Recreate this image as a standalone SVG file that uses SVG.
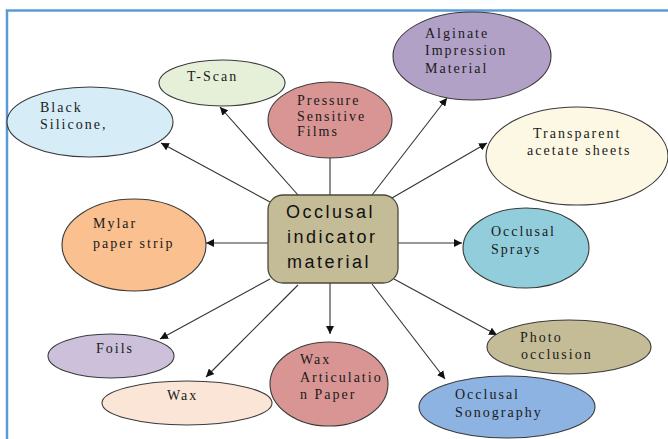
<svg xmlns="http://www.w3.org/2000/svg" width="668" height="439" viewBox="0 0 668 439">
<defs>
<marker id="ah" viewBox="0 0 10 10" refX="10" refY="5" markerWidth="8" markerHeight="8" markerUnits="userSpaceOnUse" orient="auto">
<path d="M0,0 L10,5 L0,10 z" fill="#111"/>
</marker>
<style>
.n{stroke:#3a3a3a;stroke-width:1.1}
.t{font-family:"Liberation Serif","Times New Roman",serif;font-size:14px;letter-spacing:2px;fill:#1a1a1a}
.c line{stroke:#333;stroke-width:1.1}
.a{marker-end:url(#ah)}
.b{font-family:"Liberation Sans",Arial,sans-serif;font-size:18px;letter-spacing:2.5px;fill:#111}
</style>
</defs>
<rect width="668" height="439" fill="#fff"/>
<g id="frame" fill="none" stroke="#5b9bd5" stroke-width="2.5">
<line x1="5.8" y1="10.5" x2="668" y2="10.5"/>
<line x1="7" y1="10" x2="7" y2="439"/>
</g>
<g class="c" id="connectors">
<line class="a" x1="270" y1="202" x2="161" y2="143"/>
<line class="a" x1="298" y1="195" x2="220" y2="107"/>
<line x1="330" y1="195" x2="330" y2="157"/>
<line class="a" x1="372" y1="195" x2="447" y2="98"/>
<line class="a" x1="392" y1="198" x2="487" y2="143"/>
<line class="a" x1="268" y1="243" x2="206" y2="243"/>
<line class="a" x1="398" y1="243" x2="462" y2="243"/>
<line class="a" x1="270" y1="279" x2="160" y2="339"/>
<line class="a" x1="298" y1="285" x2="206" y2="377"/>
<line class="a" x1="330" y1="283" x2="330" y2="334"/>
<line class="a" x1="394" y1="279" x2="497" y2="335"/>
<line class="a" x1="372" y1="284" x2="445" y2="379"/>
</g>
<g id="black-silicone">
<ellipse class="n" cx="90" cy="122" rx="83" ry="35" fill="#d6edf8"/>
<text class="t" x="40" y="112">Black</text>
<text class="t" x="40" y="129">Silicone,</text>
</g>
<g id="t-scan">
<ellipse class="n" cx="222" cy="83" rx="63" ry="23" fill="#e6f0d9"/>
<text class="t" x="187" y="81">T-Scan</text>
</g>
<g id="pressure-films">
<ellipse class="n" cx="330" cy="120" rx="62" ry="38" fill="#d99594"/>
<text class="t" x="297" y="105">Pressure</text>
<text class="t" x="297" y="121">Sensitive</text>
<text class="t" x="297" y="136">Films</text>
</g>
<g id="alginate">
<ellipse class="n" cx="472" cy="56" rx="79" ry="44" fill="#b2a1c7"/>
<text class="t" x="425" y="38">Alginate</text>
<text class="t" x="425" y="55">Impression</text>
<text class="t" x="425" y="73">Material</text>
</g>
<g id="transparent-sheets">
<ellipse class="n" cx="577" cy="156" rx="91" ry="49" fill="#fdf8e4"/>
<text class="t" x="533" y="138">Transparent</text>
<text class="t" x="527" y="155">acetate sheets</text>
</g>
<g id="mylar">
<ellipse class="n" cx="134" cy="245" rx="72" ry="46" fill="#fac08f"/>
<text class="t" x="93" y="228">Mylar</text>
<text class="t" x="93" y="248">paper strip</text>
</g>
<g id="center">
<rect x="268" y="195" width="130" height="88" rx="15" ry="15" fill="#c4bc96" stroke="#4a4a3a" stroke-width="1.3"/>
<text class="b" x="286" y="218">Occlusal</text>
<text class="b" x="287" y="243">indicator</text>
<text class="b" x="287" y="268">material</text>
</g>
<g id="occlusal-sprays">
<ellipse class="n" cx="526" cy="248" rx="63" ry="40" fill="#92cddc"/>
<text class="t" x="491" y="236">Occlusal</text>
<text class="t" x="491" y="254">Sprays</text>
</g>
<g id="foils">
<ellipse class="n" cx="111" cy="356" rx="63" ry="22" fill="#ccc0da"/>
<text class="t" x="96" y="353">Foils</text>
</g>
<g id="wax">
<ellipse class="n" cx="187" cy="403" rx="85" ry="22" fill="#fbe5d6"/>
<text class="t" x="167" y="400">Wax</text>
</g>
<g id="wax-articulation">
<ellipse class="n" cx="329" cy="384" rx="59" ry="42" fill="#d99594"/>
<text class="t" x="300" y="364">Wax</text>
<text class="t" x="300" y="382">Articulatio</text>
<text class="t" x="300" y="399">n Paper</text>
</g>
<g id="photo-occlusion">
<ellipse class="n" cx="569" cy="347" rx="82" ry="27" fill="#c4bc96"/>
<text class="t" x="520" y="342">Photo</text>
<text class="t" x="521" y="359">occlusion</text>
</g>
<g id="occlusal-sonography">
<ellipse class="n" cx="507" cy="407" rx="88" ry="31" fill="#8db3e2"/>
<text class="t" x="455" y="399">Occlusal</text>
<text class="t" x="455" y="417">Sonography</text>
</g>
</svg>
